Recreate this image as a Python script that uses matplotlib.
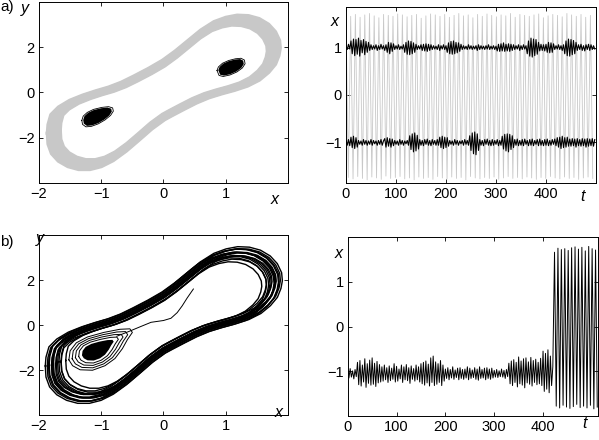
import matplotlib
matplotlib.use('Agg')
import matplotlib.pyplot as plt
import numpy as np

plt.rcParams['font.family'] = ['Liberation Sans', 'DejaVu Sans']
plt.rcParams['font.size'] = 10.5

# large orbit in the (x, y) plane, one loop, clockwise from the leftmost point
orbit_x = [-1.78, -1.77, -1.73, -1.62, -1.45, -1.25, -1.05, -0.85, -0.65, -0.45,
           -0.22, 0.00, 0.20, 0.40, 0.60, 0.80, 0.98, 1.15, 1.32, 1.48,
           1.62, 1.72, 1.78, 1.79, 1.77, 1.72, 1.62, 1.48, 1.30, 1.10,
           0.90, 0.70, 0.50, 0.30, 0.12, 0.00, -0.20, -0.40, -0.60, -0.80,
           -0.98, -1.15, -1.32, -1.48, -1.62, -1.72, -1.77]
orbit_y = [-1.75, -1.40, -1.00, -0.70, -0.42, -0.20, -0.02, 0.14, 0.35, 0.62,
           0.95, 1.30, 1.70, 2.15, 2.60, 2.95, 3.13, 3.22, 3.20, 3.08,
           2.85, 2.55, 2.20, 1.90, 1.60, 1.25, 0.92, 0.60, 0.35, 0.17,
           0.02, -0.15, -0.38, -0.66, -0.92, -1.10, -1.50, -1.98, -2.45, -2.85,
           -3.10, -3.22, -3.22, -3.10, -2.88, -2.58, -2.20]
# each repeated pass round the orbit: (size relative to the loop above, sideways shift in px)
passes_a = [(0.95, -2.0), (0.96, -1.5), (0.97, -1.0), (0.98, -0.5), (0.99, 0.0),
            (1.00, 0.5), (1.01, 1.0), (1.02, 1.5), (1.03, 2.0)]
passes_b = [(0.90, -2.0), (0.92, 0.5), (0.93, 1.5), (0.95, -3.0), (0.96, -0.5),
            (0.97, 2.5), (0.98, -1.5), (0.99, 1.0), (1.00, 0.0), (1.00, 3.5),
            (1.01, -4.0), (1.02, 2.0), (1.02, -1.0), (1.03, -2.5), (1.04, 1.0),
            (1.04, 3.0)]

# small attractors in the two wells (panel a)
well_left_x = [-1.29, -1.27, -1.21, -1.12, -1.00, -0.90, -0.84, -0.83, -0.87, -0.95,
               -1.05, -1.15, -1.23, -1.28]
well_left_y = [-1.22, -1.05, -0.90, -0.78, -0.70, -0.67, -0.72, -0.85, -1.02, -1.20,
               -1.36, -1.46, -1.48, -1.38]
well_right_x = [0.88, 0.90, 0.96, 1.05, 1.15, 1.23, 1.28, 1.29, 1.25, 1.17, 1.07, 0.97, 0.91]
well_right_y = [0.98, 1.12, 1.27, 1.38, 1.45, 1.47, 1.40, 1.25, 1.08, 0.92, 0.80, 0.74, 0.78]

# panel b: blob in the left well, the loops spiralling out of it, the escape
well_b_x = [-1.31, -1.30, -1.25, -1.16, -1.03, -0.90, -0.82, -0.80, -0.84, -0.88,
            -0.94, -1.02, -1.12, -1.22, -1.28]
well_b_y = [-1.35, -1.15, -0.97, -0.84, -0.74, -0.67, -0.66, -0.74, -0.90, -1.10,
            -1.32, -1.48, -1.58, -1.57, -1.48]
well_b_centre = (-1.10, -1.15)
spiral_b = [1.25, 1.5, 1.75, 2.0]
escape_x = [-0.75, -0.55, -0.35, -0.20, 0.00, 0.12, 0.22, 0.30, 0.38, 0.48]
escape_y = [-0.50, -0.28, -0.05, 0.12, 0.20, 0.30, 0.55, 0.85, 1.20, 1.60]
start_x = [0.59, 0.45, 0.30, 0.15]
start_y = [2.80, 2.50, 2.15, 1.80]

# panel a, time series: grey = large orbit (turning points), black = small wells
gray_step = 4.7
gray_peaks = [1.68, 1.66, 1.70, 1.64, 1.69, 1.72, 1.67, 1.63, 1.70, 1.68,
              1.66, 1.71, 1.69, 1.65, 1.68, 1.70, 1.62, 1.67, 1.71, 1.69,
              1.66, 1.70, 1.64, 1.68, 1.72, 1.67, 1.69, 1.63, 1.70, 1.66,
              1.71, 1.68, 1.65, 1.69, 1.67, 1.72, 1.64, 1.70, 1.68, 1.66,
              1.69, 1.71, 1.63, 1.67, 1.70, 1.68, 1.65, 1.72, 1.69, 1.66,
              1.70, 1.64, 1.68]
gray_troughs = [-1.74, -1.77, -1.72, -1.76, -1.79, -1.73, -1.75, -1.78, -1.71, -1.76,
                -1.74, -1.72, -1.77, -1.75, -1.79, -1.73, -1.76, -1.74, -1.78, -1.72,
                -1.75, -1.77, -1.73, -1.76, -1.74, -1.79, -1.72, -1.75, -1.77, -1.74,
                -1.76, -1.73, -1.78, -1.75, -1.72, -1.76, -1.74, -1.77, -1.73, -1.75,
                -1.78, -1.74, -1.76, -1.72, -1.75, -1.77, -1.73, -1.76, -1.74, -1.78,
                -1.75, -1.73, -1.76]

noise_step = 2.5
x_upper = [1.04, 0.96, 1.07, 0.97,
           1.14, 0.87, 1.18, 0.83, 1.17, 0.86, 1.20, 0.82, 1.15, 0.89, 1.17, 0.85, 1.13, 0.90, 1.11,
           0.94, 1.06, 0.96, 1.04, 0.97, 1.06, 0.94, 1.04, 0.96, 1.07, 0.97, 1.04, 0.94, 1.06,
           0.90, 1.11, 0.87, 1.10, 0.92, 1.08,
           0.96, 1.04, 0.97, 1.06, 0.96, 1.03, 0.97, 1.06,
           0.90, 1.11, 0.86, 1.14, 0.85, 1.13, 0.87, 1.10, 0.90, 1.07,
           0.96, 1.04, 0.97, 1.06, 0.94, 1.07, 0.93, 1.08, 0.92, 1.07, 0.94, 1.06,
           0.96, 1.04, 0.97, 1.03, 0.96, 1.06, 0.94, 1.04, 0.97, 1.06, 0.96, 1.04,
           0.90, 1.10, 0.87, 1.13, 0.86, 1.14, 0.87, 1.11, 0.89, 1.10, 0.92, 1.07,
           0.96, 1.04, 0.97, 1.03, 0.96, 1.06, 0.97, 1.04, 0.96, 1.03, 0.97, 1.04, 0.94, 1.06,
           0.96, 1.04, 0.97, 1.03, 0.96, 1.04, 0.97, 1.06, 0.96, 1.03, 0.97, 1.04, 0.96, 1.03,
           0.93, 1.07, 0.92, 1.08, 0.93, 1.10, 0.92, 1.07, 0.93, 1.08, 0.92, 1.07, 0.94, 1.06,
           0.96, 1.04, 0.97, 1.06, 0.94, 1.04, 0.96, 1.06, 0.97, 1.04,
           0.87, 1.14, 0.82, 1.20, 0.80, 1.18, 0.83, 1.17, 0.86, 1.11,
           0.93, 1.07, 0.94, 1.06, 0.93, 1.07,
           0.90, 1.11, 0.89, 1.10, 0.90, 1.08,
           0.96, 1.04, 0.97, 1.06, 0.96, 1.04, 0.94, 1.06,
           0.87, 1.14, 0.83, 1.18, 0.82, 1.17, 0.85, 1.15, 0.87, 1.11,
           0.94, 1.06, 0.96, 1.07, 0.94, 1.04, 0.93, 1.06, 0.96, 1.07, 0.94, 1.06, 0.96, 1.04, 0.97]
x_lower = [-0.96, -1.06, -0.94, -1.07,
           -0.89, -1.11, -0.87, -1.13, -0.90, -1.10,
           -0.96, -1.04, -0.97, -1.06, -0.94, -1.04, -0.96, -1.06, -0.97, -1.04, -0.94,
           -1.06, -0.96, -1.03, -0.97, -1.06, -0.96, -1.04, -0.94, -1.06, -0.97,
           -0.92, -1.10, -0.90, -1.08, -0.92, -1.10, -0.93, -1.07,
           -0.96, -1.04, -0.97, -1.06, -0.94, -1.04, -0.96, -1.06, -0.97, -1.03, -0.96, -1.06,
           -0.86, -1.15, -0.82, -1.20, -0.80, -1.18, -0.85, -1.14,
           -0.94, -1.06, -0.96, -1.07, -0.94, -1.04, -0.93, -1.06, -0.96, -1.07, -0.94, -1.04,
           -0.96, -1.06, -0.94, -1.06,
           -0.89, -1.11, -0.87, -1.13, -0.89, -1.11, -0.90, -1.08,
           -0.96, -1.04, -0.97, -1.06, -0.94, -1.04, -0.96, -1.06, -0.97, -1.03, -0.96, -1.06,
           -0.94, -1.04, -0.96, -1.06,
           -0.86, -1.17, -0.80, -1.24, -0.78, -1.26, -0.82, -1.17,
           -0.94, -1.06, -0.96, -1.07, -0.94, -1.04, -0.93, -1.06, -0.96, -1.07, -0.94, -1.06,
           -0.96, -1.04, -0.94, -1.07, -0.96, -1.06,
           -0.87, -1.14, -0.83, -1.18, -0.82, -1.20, -0.83, -1.15, -0.86, -1.11,
           -0.94, -1.06, -0.93, -1.07, -0.96, -1.06, -0.94, -1.07, -0.93, -1.04, -0.96, -1.07,
           -0.94, -1.06, -0.93, -1.07, -0.96, -1.04, -0.94, -1.07, -0.93, -1.06, -0.96, -1.07,
           -0.94, -1.06, -0.93, -1.07, -0.96, -1.06, -0.94, -1.04, -0.93, -1.07,
           -0.90, -1.10, -0.89, -1.13, -0.87, -1.11, -0.90, -1.10, -0.89, -1.08,
           -0.93, -1.08, -0.92, -1.07, -0.93, -1.10, -0.92, -1.07, -0.94, -1.08, -0.92,
           -1.07, -0.93, -1.10, -0.92, -1.08, -0.93, -1.07, -0.92, -1.08, -0.94]

# panel b, time series: noisy motion in the left well, then the jump
x_b_noise = [-0.97, -1.15, -0.94, -1.13, -0.99, -1.17, -0.96, -1.12,
             -0.80, -1.30, -0.76, -1.33, -0.86, -1.24, -0.72, -1.36, -0.83, -1.27,
             -0.75, -1.31, -0.70, -1.29, -0.82, -1.34, -0.78, -1.26, -0.85, -1.24,
             -0.90, -1.22, -0.86, -1.19, -0.92, -1.25, -0.88, -1.21, -0.93, -1.18,
             -0.83, -1.24, -0.89, -1.22, -0.95, -1.17, -0.86, -1.25, -0.90, -1.19,
             -0.85, -1.21, -0.92, -1.27, -0.88, -1.18, -0.94, -1.22, -0.86, -1.19, -0.90, -1.24,
             -0.83, -1.28, -0.80, -1.31, -0.77, -1.26, -0.84, -1.33, -0.70, -1.25,
             -0.66, -1.32, -0.79, -1.29, -0.83, -1.25, -0.76, -1.32, -0.86, -1.22,
             -0.95, -1.16, -0.92, -1.19, -0.96, -1.15, -0.90, -1.18, -0.97, -1.14,
             -0.93, -1.19, -0.92, -1.16, -0.96, -1.18, -0.95, -1.15, -0.90, -1.19,
             -0.93, -1.16, -0.97, -1.14, -0.92, -1.18, -0.95, -1.20, -0.90, -1.16,
             -0.96, -1.15, -0.93, -1.19, -0.92, -1.16, -0.95, -1.18, -0.93, -1.15,
             -0.98, -1.13, -0.96, -1.14, -0.99, -1.12, -0.95, -1.13, -0.98, -1.16, -0.96, -1.12,
             -0.82, -1.28, -0.77, -1.32, -0.74, -1.25, -0.80, -1.35, -0.68, -1.28,
             -0.77, -1.31, -0.72, -1.37, -0.70, -1.26, -0.79, -1.29, -0.69, -1.33,
             -0.76, -1.25, -0.73, -1.30, -0.80, -1.28, -0.71, -1.32,
             -0.55, -1.45, -0.60, -1.40, -0.52, -1.48, -0.66, -1.32, -0.90]
t_b_jump = [423.5, 427.0, 430.5, 434.0, 437.5, 441.0, 444.5, 448.0, 451.5, 455.0,
            458.5, 462.0, 465.5, 469.0, 472.5, 476.0, 479.5, 483.0, 486.5, 490.0,
            493.5, 497.0, 500.5, 504.0, 507.5, 511.0]
x_b_jump = [1.66, -1.78, 1.75, -1.82, 1.72, -1.76, 1.74, -1.80, 1.70, -1.83,
            1.76, -1.79, 1.78, -1.74, 1.73, -1.81, 1.77, -1.78, 1.69, -1.82,
            1.79, -1.76, 1.74, -1.84, 1.71, -1.80]

GRAY = '#c8c8c8'


def style(ax):
    ax.tick_params(direction='in', top=True, right=True, length=3, width=0.6,
                   labelsize=10.5, pad=3)
    for s in ax.spines.values():
        s.set_linewidth(0.7)


def closed(xs, ys, sx=1.0, cx=0.0, cy=0.0):
    xs = np.append(xs, xs[0])
    ys = np.append(ys, ys[0])
    return cx + (xs - cx) * sx, cy + (ys - cy) * sx


def one_pass(ax, xs, ys, size, d):
    # the closed orbit, resized about the origin and moved sideways by d pixels
    xy = np.column_stack([xs, ys]) * size
    pts = ax.transData.transform(xy)
    tang = np.roll(pts, -1, axis=0) - np.roll(pts, 1, axis=0)
    tang /= np.hypot(tang[:, 0], tang[:, 1])[:, None]
    pts = pts + d * np.column_stack([-tang[:, 1], tang[:, 0]])
    pts = np.vstack([pts, pts[:1]])
    out = ax.transData.inverted().transform(pts)
    return out[:, 0], out[:, 1]


def phase_axes(ax):
    ax.set_xlim(-2, 2)
    ax.set_ylim(-4, 4)
    ax.set_xticks([-2, -1, 0, 1, 2])
    ax.set_xticklabels(['\u22122', '\u22121', '0', '1', ''])
    ax.set_yticks([-2, 0, 2])
    style(ax)


fig = plt.figure(figsize=(5.99, 4.40), dpi=100)

# a) left: phase plane
ax = fig.add_axes([0.0651, 0.5841, 0.4157, 0.412])
phase_axes(ax)
for size, d in passes_a:
    ax.plot(*one_pass(ax, orbit_x, orbit_y, size, d), color=GRAY, lw=2.4)
for wx, wy in [(well_left_x, well_left_y), (well_right_x, well_right_y)]:
    ax.fill(*closed(wx, wy), color='black', lw=0)
    cx, cy = np.mean(wx), np.mean(wy)
    ax.plot(*closed(wx, wy, 1.1, cx, cy), color='black', lw=0.6)

# a) right: time series
ax = fig.add_axes([0.5776, 0.5848, 0.4174, 0.3986])
x_gray = np.ravel(np.column_stack([gray_peaks, gray_troughs]))
ax.plot(np.arange(len(x_gray)) * gray_step, x_gray, color=GRAY, lw=0.6)
ax.plot(np.arange(len(x_upper)) * noise_step, x_upper, color='black', lw=0.8)
ax.plot(np.arange(len(x_lower)) * noise_step, x_lower, color='black', lw=0.8)
ax.set_xlim(0, 500)
ax.set_ylim(-1.85, 1.85)
ax.set_xticks([0, 100, 200, 300, 400])
ax.set_yticks([-1, 0, 1])
style(ax)

# b) left: phase plane
ax = fig.add_axes([0.0651, 0.0568, 0.4157, 0.4091])
phase_axes(ax)
for size, d in passes_b:
    ax.plot(*one_pass(ax, orbit_x, orbit_y, size, d), color='black', lw=1.0)
ax.fill(*closed(well_b_x, well_b_y), color='black', lw=0)
for s in spiral_b:
    ax.plot(*closed(well_b_x, well_b_y, s, *well_b_centre), color='black', lw=0.7)
ax.plot(escape_x, escape_y, color='black', lw=0.7)
ax.plot(start_x, start_y, color='black', lw=0.7)

# b) right: time series
ax = fig.add_axes([0.5805, 0.0545, 0.4174, 0.4068])
t_noise = np.arange(len(x_b_noise)) * noise_step
ax.plot(np.concatenate([t_noise, t_b_jump]), np.concatenate([x_b_noise, x_b_jump]),
        color='black', lw=0.7)
ax.set_xlim(0, 512)
ax.set_ylim(-2, 2)
ax.set_xticks([0, 100, 200, 300, 400])
ax.set_yticks([-1, 0, 1])
style(ax)

# panel letters and axis names
fig.text(0.0, 0.984, 'a)', fontsize=11, va='center')
fig.text(0.0, 0.451, 'b)', fontsize=11, va='center')
lab = dict(fontsize=11.5, style='italic', ha='center', va='center')
fig.text(0.4591, 0.5477, 'x', **lab)
fig.text(0.0417, 0.9818, 'y', **lab)
fig.text(0.5593, 0.9507, 'x', **lab)
fig.text(0.9733, 0.5523, 't', **lab)
fig.text(0.4658, 0.0614, 'x', **lab)
fig.text(0.0668, 0.459, 'y', **lab)
fig.text(0.5648, 0.4243, 'x', **lab)
fig.text(0.9766, 0.038, 't', **lab)

plt.savefig('out.png', dpi=100)
